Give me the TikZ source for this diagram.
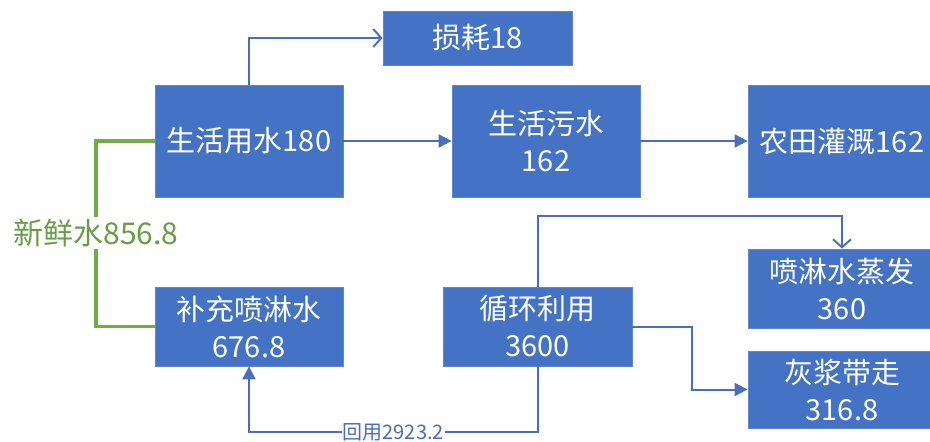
\documentclass[tikz,border=0pt]{standalone}
\usepackage{fontspec}
\setmainfont{Noto Sans CJK SC}
\usetikzlibrary{arrows.meta}
\definecolor{boxblue}{HTML}{4472C4}
\definecolor{lineblue}{HTML}{4A6EBD}
\definecolor{freshgreen}{HTML}{70AD47}
\definecolor{labelgreen}{HTML}{6A9C45}
\tikzset{
  flowbox/.style={draw=boxblue!85!white, fill=boxblue, text=white, line width=0.8pt,
    inner sep=0pt, align=center, font=\fontsize{29}{37}\selectfont},
  conn/.style={draw=lineblue, line width=2pt},
  solidtip/.style={conn, -{Triangle[length=13pt,width=13pt]}},
  opentip/.style={conn, -{Straight Barb[length=8pt,width=18pt,line width=2pt]}},
  greenline/.style={draw=freshgreen, line width=3.5pt},
  smalllabel/.style={fill=white, inner sep=1pt, text=lineblue, font=\fontsize{20}{22}\selectfont}
}
\begin{document}
\begin{tikzpicture}[x=1pt,y=-1pt]
\useasboundingbox (0,0) rectangle (930,442);
\fill[white] (0,0) rectangle (930,442);
\node[flowbox, minimum width=188pt, minimum height=112pt] (yong) at (249,141) {生活用水180};
\node[flowbox, minimum width=189pt, minimum height=54pt] (sun) at (477.5,38) {损耗18};
\node[flowbox, minimum width=188pt, minimum height=112pt] (wu) at (546,141) {生活污水\\162};
\node[flowbox, minimum width=188pt, minimum height=112pt] (nong) at (842,141) {农田灌溉162};
\node[flowbox, minimum width=188pt, minimum height=79pt] (bu) at (249,326.5) {补充喷淋水\\676.8};
\node[flowbox, minimum width=189pt, minimum height=79pt] (xun) at (537.5,326.5) {循环利用\\3600};
\node[flowbox, minimum width=188pt, minimum height=79pt] (zheng) at (842,288.5) {喷淋水蒸发\\360};
\node[flowbox, minimum width=188pt, minimum height=77pt] (hui) at (842,389.5) {灰浆带走\\316.8};
\node[text=labelgreen, inner sep=2pt, font=\fontsize{30}{34}\selectfont] (fresh) at (96,233) {新鲜水856.8};

\draw[opentip] (yong.north) |- (sun.west);
\draw[solidtip] (yong.east) -- (wu.west);
\draw[solidtip] (wu.east) -- (nong.west);
\draw[opentip] (xun.north) -- ++(0,-71) -| (zheng.north);
\draw[solidtip] (xun.east) -- ++(60,0) |- (hui.west);
\draw[solidtip] (xun.south) -- ++(0,66) -| node[pos=0.25, smalllabel] (huiyong) {回用2923.2} (bu.south);
\draw[greenline] (yong.west) -| (fresh.north);
\draw[greenline] (fresh.south) |- (bu.west);
\end{tikzpicture}
\end{document}
